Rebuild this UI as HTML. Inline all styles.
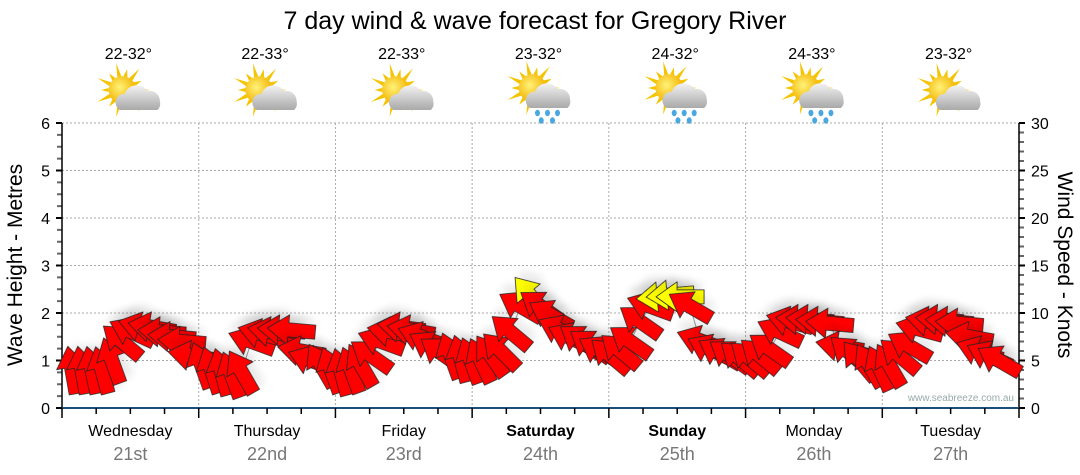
<!DOCTYPE html>
<html><head><meta charset="utf-8">
<style>
body{margin:0;background:#fff;width:1080px;height:475px;overflow:hidden;font-family:"Liberation Sans","DejaVu Sans",sans-serif;}
svg{display:block}
</style></head>
<body>
<svg id="chart" width="1080" height="475" viewBox="0 0 1080 475" xmlns="http://www.w3.org/2000/svg" font-family="Liberation Sans, DejaVu Sans, sans-serif">
<defs>
<radialGradient id="sunG" cx="0.4" cy="0.4" r="0.6"><stop offset="0" stop-color="#fff27a"/><stop offset="1" stop-color="#f3b400"/></radialGradient>
<linearGradient id="cloudG" x1="0" y1="0" x2="0" y2="1"><stop offset="0" stop-color="#f2f2f2"/><stop offset="1" stop-color="#a9a9a9"/></linearGradient>
<filter id="shadow" x="-30%" y="-30%" width="160%" height="180%"><feGaussianBlur in="SourceAlpha" stdDeviation="4"/><feOffset dx="3" dy="8"/><feComponentTransfer><feFuncA type="linear" slope="0.08"/></feComponentTransfer><feMerge><feMergeNode/><feMergeNode in="SourceGraphic"/></feMerge></filter>
</defs>
<text x="535" y="29" text-anchor="middle" font-size="25" fill="#000">7 day wind &amp; wave forecast for Gregory River</text>
<g id="grid"></g>
<g id="axes"></g>
<g id="icons"></g>
<g id="series"></g>
<text transform="translate(22,265) rotate(-90)" text-anchor="middle" font-size="21" fill="#000">Wave Height - Metres</text>
<text transform="translate(1058,265) rotate(90)" text-anchor="middle" font-size="21" fill="#000">Wind Speed - Knots</text>
<text x="1014" y="401" text-anchor="end" font-size="10" fill="#9aa">www.seabreeze.com.au</text>
</svg>
<script>
const days=["Wednesday","Thursday","Friday","Saturday","Sunday","Monday","Tuesday"];
const dates=["21st","22nd","23rd","24th","25th","26th","27th"];
const boldDays=[false,false,false,true,true,false,false];
const temps=["22-32°","22-33°","22-33°","23-32°","24-32°","24-33°","23-32°"];
const rainy=[false,false,false,true,true,true,false];
const waveTicks=[0,1,2,3,4,5,6];
const windTicks=[0,5,10,15,20,25,30];
// wind samples every 1.75 hours starting at 1.75h
const windSpeed=[4.0,4.0,4.0,4.0,5.0,7.0,8.0,8.5,8.5,8.0,7.5,7.0,5.5,4.5,4.0,3.8,3.5,3.8,7.0,7.8,8.0,8.2,8.2,6.0,5.0,4.5,4.0,3.8,4.0,4.5,5.5,7.0,8.0,8.5,8.2,7.5,6.5,5.8,5.5,5.2,5.0,5.0,5.5,6.0,8.0,10.7,11.8,10.7,9.8,8.2,7.4,7.1,6.6,6.0,5.5,6.0,7.0,9.1,10.7,11.7,11.9,11.7,10.7,7.1,6.2,5.8,5.5,5.2,5.2,5.5,6.2,8.0,9.1,9.3,9.3,9.1,8.9,6.5,5.8,5.0,4.5,4.2,4.5,5.5,6.5,8.3,9.1,9.3,9.1,8.9,7.5,6.0,5.5,5.0];
const windFrom=[170,170,168,165,160,130,115,105,100,95,95,95,100,160,162,165,160,150,110,105,100,95,95,100,110,150,160,165,160,150,125,110,100,98,100,110,120,125,160,165,160,155,145,135,130,120,140,125,120,115,115,125,125,120,130,130,125,125,110,85,85,90,120,110,115,120,125,130,130,130,125,115,105,95,95,95,95,100,130,140,150,155,150,130,120,105,100,95,95,95,100,110,115,120];

const NS="http://www.w3.org/2000/svg";
const X0=62,X1=1019,Y0=408,Y1=123;
const xScale=h=>X0+h/168*(X1-X0);
const yWave=m=>Y0-m/6*(Y0-Y1);
const yWind=k=>Y0-k/30*(Y0-Y1);
function mk(tag,attrs,parent){const e=document.createElementNS(NS,tag);for(const k in attrs)e.setAttribute(k,attrs[k]);parent.appendChild(e);return e;}
const grid=document.getElementById('grid'),axes=document.getElementById('axes'),icons=document.getElementById('icons'),series=document.getElementById('series');

waveTicks.forEach(v=>{
  const y=yWave(v);
  if(v>0){const l=mk('line',{x1:X0,x2:X1,y1:y,y2:y,stroke:'#aaa','stroke-dasharray':'2,2','stroke-width':1},grid);
  
  }
  const t=mk('text',{x:X0-12,y:y+6,'text-anchor':'end','font-size':16,fill:'#000'},axes);t.textContent=v;
  
  
});
for(let i=0;i<=24;i++){const y=yWave(i*0.25);mk('line',{x1:X0-(i%4==0?6:5),x2:X0,y1:y,y2:y,stroke:i%4==0?'#000':'#666','stroke-width':2},axes);}
windTicks.forEach(v=>{
  const y=yWind(v);
  const t=mk('text',{x:X1+12,y:y+6,'font-size':16,fill:'#000'},axes);t.textContent=v;
  
  
});
for(let i=0;i<=30;i++){const y=yWind(i);mk('line',{x1:X1,x2:X1+(i%5==0?6:5),y1:y,y2:y,stroke:i%5==0?'#000':'#666','stroke-width':2},axes);}
mk('line',{x1:X0,x2:X0,y1:Y1,y2:Y0,stroke:'#000','stroke-width':1.5},axes);
mk('line',{x1:X1,x2:X1,y1:Y1,y2:Y0,stroke:'#000','stroke-width':1.5},axes);
mk('line',{x1:X0,x2:X1,y1:Y0,y2:Y0,stroke:'#1a4f7a','stroke-width':2},axes);
for(let d=0;d<=7;d++){
  const x=xScale(d*24);
  if(d>0&&d<7){const l=mk('line',{x1:x,x2:x,y1:Y1,y2:Y0,stroke:'#aaa','stroke-dasharray':'2,2'},grid);
  
  }
  mk('line',{x1:x,x2:x,y1:Y0,y2:Y0+10,stroke:'#000','stroke-width':1.5},axes);
  if(d<7)for(let q=1;q<4;q++){const xx=xScale(d*24+q*6);mk('line',{x1:xx,x2:xx,y1:Y0,y2:Y0+6,stroke:'#000','stroke-width':1.5},axes);}
}
days.forEach((d,i)=>{
  const cx=xScale(i*24+12);
  const t=mk('text',{x:cx,y:436,'text-anchor':'middle','font-size':16,fill:'#000','font-weight':boldDays[i]?'bold':'normal'},axes);t.textContent=d;
  
  
  const t2=mk('text',{x:cx,y:460,'text-anchor':'middle','font-size':18,fill:'#777'},axes);t2.textContent=dates[i];
  
  
  const t3=mk('text',{x:cx-2,y:59,'text-anchor':'middle','font-size':16,fill:'#000'},icons);t3.textContent=temps[i];
  
  
  const g=mk('g',{transform:`translate(${cx+2},${rainy[i]?93:95}) scale(1.25)`},icons);
  
  
  for(let r=0;r<14;r++){const a=r/14*Math.PI*2;const L=(r%2?17:22);
    mk('polygon',{points:`${-8+Math.cos(a)*L},${-4+Math.sin(a)*L} ${-8+Math.cos(a+0.15)*11},${-4+Math.sin(a+0.15)*11} ${-8+Math.cos(a-0.15)*11},${-4+Math.sin(a-0.15)*11}`,fill:'#f5c400'},g);}
  mk('circle',{cx:-8,cy:-4,r:11,fill:'url(#sunG)'},g);
  mk('path',{d:'M-10,12 a7,7 0 0 1 4,-13 a10,10 0 0 1 18,-2 a8,8 0 0 1 10,8 a7,7 0 0 1 -2,7 z',fill:'url(#cloudG)'},g);
  if(rainy[i]){[[-4,16],[4,16],[12,16],[-1,22],[8,22]].forEach(p=>mk('ellipse',{cx:p[0],cy:p[1],rx:2,ry:2.6,fill:'#4aa8e0'},g));}
});

let pts=windSpeed.map((s,i)=>`${xScale(1.75+i*1.75)},${yWind(s)}`).join(' ');
const pl=mk('polyline',{points:pts,fill:'none',stroke:'#999','stroke-width':1},series);


windSpeed.forEach((s,i)=>{
  const x=xScale(1.75+i*1.75),y=yWind(s);
  const toDeg=(windFrom[i]+180)%360;
  const rot=toDeg-90;
  const a=mk('polygon',{points:'-24,-7 3,-7 3,-15 24,0 3,15 3,7 -24,7',fill:s>=11.5?'#ffff00':'#ff0000',stroke:'#222','stroke-width':0.8,transform:`translate(${x},${y}) rotate(${rot})`,filter:'url(#shadow)'},series);
  
  
});
</script>
</body></html>
